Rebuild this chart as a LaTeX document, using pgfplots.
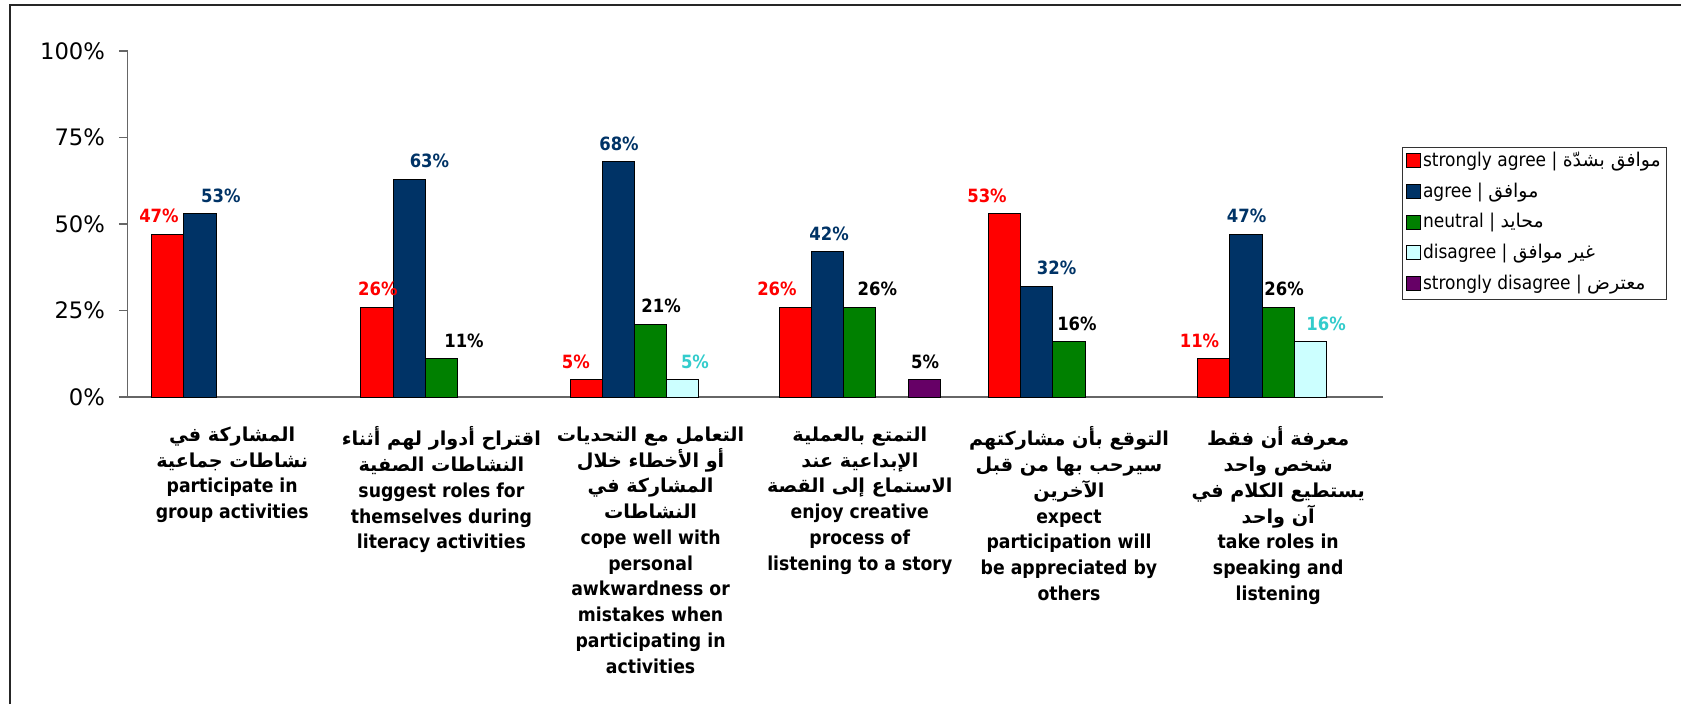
\documentclass[border=0pt]{standalone}
\usepackage{fontspec}
\usepackage{pgfplots}
\pgfplotsset{compat=1.18}
\TeXXeTstate=1
\setmainfont{DejaVu Sans}
\newfontfamily\condfont{DejaVu Sans Condensed}
\newfontfamily\arabicfont[Script=Arabic]{DejaVu Sans}
\definecolor{cRed}{HTML}{FF0000}
\definecolor{cBlue}{HTML}{003366}
\definecolor{cGreen}{HTML}{008000}
\definecolor{cCyan}{HTML}{CCFFFF}
\definecolor{cPurple}{HTML}{660066}
\definecolor{cCyanTxt}{HTML}{33CCCC}
\tikzset{labl/.style={font=\condfont\bfseries\fontsize{13.7}{16}\selectfont, anchor=base, yshift=8.6pt, inner sep=0pt}}
\begin{document}
\begin{tikzpicture}
\useasboundingbox (0pt,0pt) rectangle (1260.75pt,528pt);
\draw[line width=1.4pt, black!85] (7.5pt,0pt) -- (7.5pt,524.25pt) -- (1260.75pt,524.25pt);
\begin{axis}[
  at={(95.7pt,230.25pt)}, anchor=south west,
  scale only axis, width=941.4pt, height=259.5pt,
  xmin=-0.5, xmax=5.5, ymin=0, ymax=100,
  ybar=0pt, bar width=24.15pt,
  axis x line*=bottom, axis y line*=left,
  axis line style={-, black!60, line width=1pt},
  clip=false,
  ytick={0,25,50,75,100},
  yticklabels={0\%,25\%,50\%,75\%,100\%},
  ytick style={black!60, line width=1pt},
  tick align=outside, major tick length=6.5pt,
  yticklabel style={font=\fontsize{17}{19}\selectfont, xshift=-7pt},
  xtick={0,1,2,3,4,5},
  xtick style={draw=none},
  xticklabel style={font=\condfont\bfseries\fontsize{14.4}{19.3}\selectfont, align=center, anchor=north, yshift=-12.4pt},
  xticklabels={
    {{\arabicfont\beginR المشاركة في\endR}\\{\arabicfont\beginR نشاطات جماعية\endR}\\participate in\\group activities},
    {{\arabicfont\beginR اقتراح أدوار لهم أثناء\endR}\\{\arabicfont\beginR النشاطات الصفية\endR}\\suggest roles for\\themselves during\\literacy activities},
    {{\arabicfont\beginR التعامل مع التحديات\endR}\\{\arabicfont\beginR أو الأخطاء خلال\endR}\\{\arabicfont\beginR المشاركة في\endR}\\{\arabicfont\beginR النشاطات\endR}\\cope well with\\personal\\awkwardness or\\mistakes when\\participating in\\activities},
    {{\arabicfont\beginR التمتع بالعملية\endR}\\{\arabicfont\beginR الإبداعية عند\endR}\\{\arabicfont\beginR الاستماع إلى القصة\endR}\\enjoy creative\\process of\\listening to a story},
    {{\arabicfont\beginR التوقع بأن مشاركتهم\endR}\\{\arabicfont\beginR سيرحب بها من قبل\endR}\\{\arabicfont\beginR الآخرين\endR}\\expect\\participation will\\be appreciated by\\others},
    {{\arabicfont\beginR معرفة أن فقط\endR}\\{\arabicfont\beginR شخص واحد\endR}\\{\arabicfont\beginR يستطيع الكلام في\endR}\\{\arabicfont\beginR آن واحد\endR}\\take roles in\\speaking and\\listening}
  },
  legend style={at={(1.0151,0.7234)}, anchor=north west, draw=black!80, line width=0.7pt,
    font=\condfont\fontsize{14.2}{16}\selectfont, inner xsep=3pt, inner ysep=3pt,
    row sep=7pt, nodes={inner sep=1.5pt, text height=10pt, text depth=3pt}},
  legend cell align=left,
  legend image code/.code={\draw[#1, draw=black, line width=0.6pt] (0pt,-4.5pt) rectangle (10.5pt,6pt);},
]
\addplot[fill=cRed, draw=black, line width=0.75pt] coordinates {(0,47) (1,26) (2,5) (3,26) (4,53) (5,11)};
\addlegendentry{strongly agree | {\arabicfont\beginR موافق بشدّة\endR}}
\addplot[fill=cBlue, draw=black, line width=0.75pt] coordinates {(0,53) (1,63) (2,68) (3,42) (4,32) (5,47)};
\addlegendentry{agree | {\arabicfont\beginR موافق\endR}}
\addplot[fill=cGreen, draw=black, line width=0.75pt] coordinates {(1,11) (2,21) (3,26) (4,16) (5,26)};
\addlegendentry{neutral | {\arabicfont\beginR محايد\endR}}
\addplot[fill=cCyan, draw=black, line width=0.75pt] coordinates {(2,5) (5,16)};
\addlegendentry{disagree | {\arabicfont\beginR غير موافق\endR}}
\addplot[fill=cPurple, draw=black, line width=0.75pt] coordinates {(3,5)};
\addlegendentry{strongly disagree | {\arabicfont\beginR معترض\endR}}
% data labels
\node[labl, cRed] at (axis cs:-0.350,47) {47\%};
\node[labl, cBlue] at (axis cs:-0.054,53) {53\%};
\node[labl, cRed] at (axis cs:0.696,26) {26\%};
\node[labl, cBlue] at (axis cs:0.943,63) {63\%};
\node[labl, black] at (axis cs:1.108,11) {11\%};
\node[labl, cRed] at (axis cs:1.643,5) {5\%};
\node[labl, cBlue] at (axis cs:1.849,68) {68\%};
\node[labl, black] at (axis cs:2.050,21) {21\%};
\node[labl, cCyanTxt] at (axis cs:2.212,5) {5\%};
\node[labl, cRed] at (axis cs:2.604,26) {26\%};
\node[labl, cBlue] at (axis cs:2.853,42) {42\%};
\node[labl, black] at (axis cs:3.084,26) {26\%};
\node[labl, black] at (axis cs:3.312,5) {5\%};
\node[labl, cRed] at (axis cs:3.608,53) {53\%};
\node[labl, cBlue] at (axis cs:3.941,32) {32\%};
\node[labl, black] at (axis cs:4.038,16) {16\%};
\node[labl, cRed] at (axis cs:4.624,11) {11\%};
\node[labl, cBlue] at (axis cs:4.849,47) {47\%};
\node[labl, black] at (axis cs:5.028,26) {26\%};
\node[labl, cCyanTxt] at (axis cs:5.229,16) {16\%};
\end{axis}
\end{tikzpicture}
\end{document}
